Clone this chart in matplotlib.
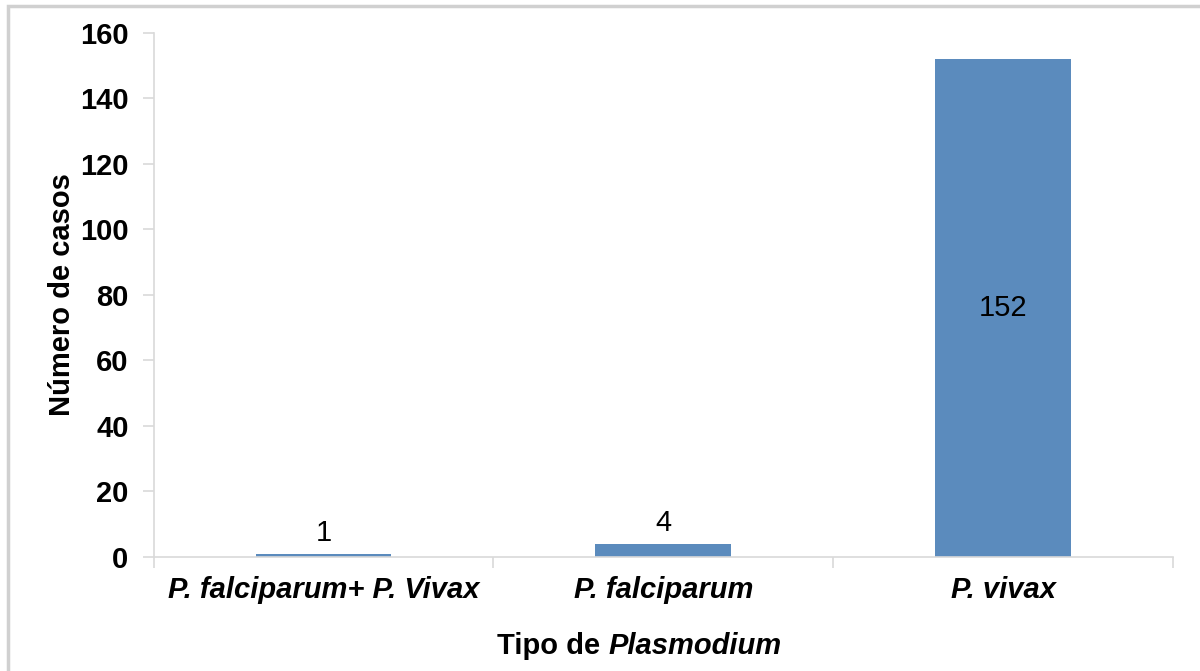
import matplotlib
matplotlib.use('Agg')
import matplotlib.pyplot as plt
from matplotlib.patches import Rectangle

plt.rcParams['font.family'] = ['Liberation Sans', 'DejaVu Sans']

categories = ["P. falciparum+ P. Vivax", "P. falciparum", "P. vivax"]
casos = [1, 4, 152]
yticks = [0, 20, 40, 60, 80, 100, 120, 140, 160]

bar_color = '#5b8bbd'
axis_gray = '#d9d9d9'
fs = 21

fig = plt.figure(figsize=(12, 6.71), dpi=100)
ax = fig.add_axes([0.128, 0.170, 0.8495, 0.781])

x = range(len(categories))
bars = ax.bar(x, casos, width=0.4, color=bar_color, zorder=2)

ax.set_xlim(-0.5, len(categories) - 0.5)
ax.set_ylim(0, 160)
ax.set_yticks(yticks)
ax.set_yticklabels([str(v) for v in yticks], fontsize=fs, fontweight='bold')
ax.set_xticks(list(x))
ax.set_xticklabels(categories, fontsize=fs, fontweight='bold', fontstyle='italic')
ax.set_xticks([i - 0.5 for i in range(len(categories) + 1)], minor=True)
ax.tick_params(axis='x', which='major', length=0, pad=14)
ax.tick_params(axis='x', which='minor', length=8, color=axis_gray, width=1.2)
ax.tick_params(axis='y', length=8, color=axis_gray, width=1.2, pad=10)

for s in ['top', 'right']:
    ax.spines[s].set_visible(False)
for s in ['left', 'bottom']:
    ax.spines[s].set_color(axis_gray)
    ax.spines[s].set_linewidth(1.2)

# data labels: centred in the tall bar, above the short ones
for rect, v in zip(bars, casos):
    cx = rect.get_x() + rect.get_width() / 2
    if v > 20:
        ax.text(cx, v / 2, str(v), ha='center', va='center', fontsize=fs)
    else:
        ax.annotate(str(v), (cx, v), xytext=(0, 5), textcoords='offset points',
                    ha='center', va='bottom', fontsize=fs)

ax.set_ylabel("Número de casos", fontsize=fs, fontweight='bold', labelpad=3)

# x label with italic genus name
t1 = fig.text(0.414, 0.025, "Tipo de ", fontsize=fs, fontweight='bold',
              ha='left', va='baseline')
ax.annotate("Plasmodium", xy=(1, 0), xycoords=t1, va='bottom', ha='left',
            fontsize=fs, fontweight='bold', fontstyle='italic')

# light outer frame
fig.patches.append(Rectangle((8 / 1200, -0.05), 1.2, 1 - 6 / 671 + 0.05,
                             transform=fig.transFigure, fill=False,
                             edgecolor='#d0d0d0', linewidth=2.5))

fig.savefig('out.png', dpi=100)
